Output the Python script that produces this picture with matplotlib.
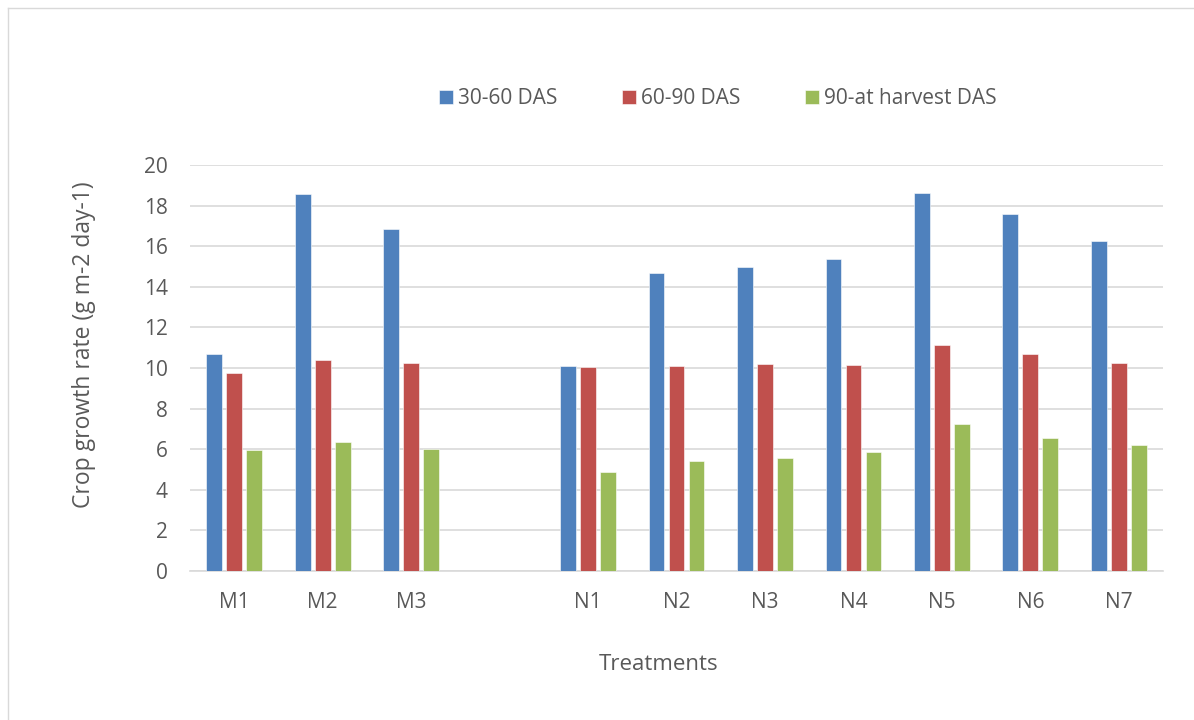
import numpy as np
import matplotlib.pyplot as plt
from matplotlib.lines import Line2D

# data (blank slot between M3 and N1)
categories = ['M1', 'M2', 'M3', '', 'N1', 'N2', 'N3', 'N4', 'N5', 'N6', 'N7']
das_30_60 = [10.67, 18.58, 16.86, np.nan, 10.08, 14.66, 14.99, 15.35, 18.64, 17.58, 16.27]
das_60_90 = [9.74, 10.39, 10.23, np.nan, 10.05, 10.11, 10.20, 10.15, 11.13, 10.69, 10.23]
das_90_harvest = [5.97, 6.35, 6.00, np.nan, 4.89, 5.43, 5.58, 5.88, 7.25, 6.53, 6.19]
series_names = ['30-60 DAS', '60-90 DAS', '90-at harvest DAS']
colors = ['#4F81BD', '#C0504D', '#9BBB59']
yticks = [0, 2, 4, 6, 8, 10, 12, 14, 16, 18, 20]

plt.rcParams['font.family'] = ['Open Sans', 'DejaVu Sans']
txt = '#595959'
fs = 15

fig = plt.figure(figsize=(11.94, 7.2), dpi=100)
ax = fig.add_axes([190 / 1194, 1 - 571 / 720, 973 / 1194, 406 / 720])

x = np.arange(len(categories))
width = 0.177
step = 0.226
for i, (vals, name, c) in enumerate(zip([das_30_60, das_60_90, das_90_harvest], series_names, colors)):
    ax.bar(x + (i - 1) * step, vals, width, color=c, label=name,
           edgecolor='white', linewidth=0.4, zorder=3)

ax.set_xlim(-0.5, len(categories) - 0.5)
ax.set_ylim(0, 20)
ax.set_yticks(yticks)
ax.set_xticks(x)
ax.set_xticklabels(categories)
ax.tick_params(axis='both', length=0, labelsize=fs, colors=txt)
ax.tick_params(axis='x', pad=15)
ax.tick_params(axis='y', pad=16)
ax.grid(axis='y', color='#D9D9D9', linewidth=1.2, zorder=0)
for s in ['left', 'right', 'top']:
    ax.spines[s].set_visible(False)
ax.spines['bottom'].set_color('#D9D9D9')
ax.spines['bottom'].set_linewidth(1.2)

# axis titles placed where they sit in the original
fig.text(84 / 1194, 1 - 345 / 720, 'Crop growth rate (g m-2 day-1)', rotation=90,
         ha='center', va='center', fontsize=16.5, color=txt)
fig.text(659 / 1194, 1 - 664 / 720, 'Treatments', ha='center', va='center',
         fontsize=16, color=txt)

fig.legend(loc='center', bbox_to_anchor=(718 / 1194, 1 - 99 / 720), ncol=3,
           frameon=False, fontsize=fs, labelcolor=txt, handlelength=0.67,
           handleheight=0.67, handletextpad=0.25, columnspacing=3.1)

# chart-area border
fig.add_artist(Line2D([8 / 1194, 1], [1 - 8 / 720, 1 - 8 / 720], color='#D9D9D9', lw=1))
fig.add_artist(Line2D([8 / 1194, 8 / 1194], [0, 1 - 8 / 720], color='#D9D9D9', lw=1))

fig.savefig('out.png', dpi=100, facecolor='white')
